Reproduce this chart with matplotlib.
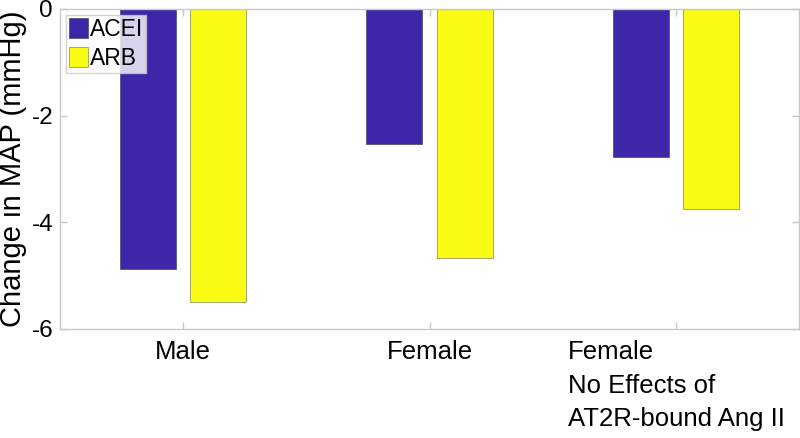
import numpy as np
import matplotlib
matplotlib.use('Agg')
import matplotlib.pyplot as plt

groups = ['Male', 'Female', 'Female\nNo Effects of\nAT2R-bound Ang II']
acei = [-4.88, -2.54, -2.78]
arb = [-5.50, -4.67, -3.75]
yticks = [0, -2, -4, -6]

plt.rcParams['font.family'] = ['Liberation Sans', 'DejaVu Sans']

fig = plt.figure(figsize=(8, 4.38), dpi=100)
ax = fig.add_axes([0.075, 0.249, 0.924, 0.7306])

x = np.arange(1, len(groups) + 1)
w = 0.227
off = 0.143
ax.bar(x - off, acei, w, color='#3e26a8', edgecolor='#555577', linewidth=0.6, label='ACEI')
ax.bar(x + off, arb, w, color='#f9fb15', edgecolor='#999966', linewidth=0.6, label='ARB')

ax.set_xlim(0.5, 3.5)
ax.set_ylim(-6, 0)
ax.set_yticks(yticks)
ax.set_yticklabels([str(v) for v in yticks], fontsize=17.5)
ax.set_xticks(x)
ax.set_xticklabels(groups, fontsize=18.5, linespacing=1.5, multialignment='left')

for s in ax.spines.values():
    s.set_color('#c8c8c8')
    s.set_linewidth(1)
ax.tick_params(direction='in', length=5, color='#c8c8c8', top=True, right=True, width=1)
ax.tick_params(axis='x', pad=8)
ax.tick_params(axis='y', pad=5)
ax.set_ylabel('Change in MAP (mmHg)', fontsize=21)
ax.yaxis.set_label_coords(-0.044, 0.5)

leg = ax.legend(loc='upper left', fontsize=16.5, frameon=True, fancybox=False,
                borderpad=0.15, handlelength=0.8, handleheight=0.95, handletextpad=0.1,
                labelspacing=0.25, borderaxespad=0.25)
leg.get_frame().set_edgecolor('#c8c8c8')
leg.get_frame().set_linewidth(1)

fig.savefig('out.png', dpi=100)
